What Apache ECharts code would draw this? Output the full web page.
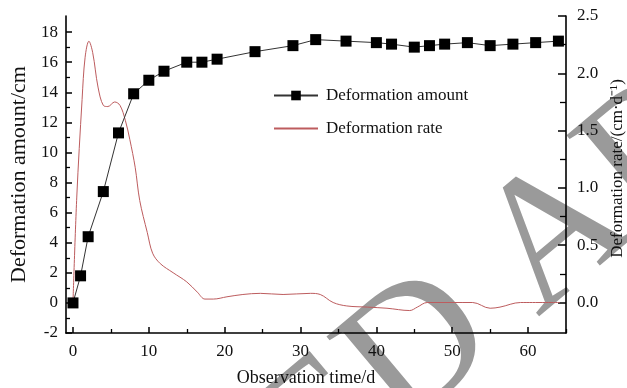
<!DOCTYPE html>
<html>
<head>
<meta charset="utf-8">
<script src="https://cdn.jsdelivr.net/npm/echarts@6/dist/echarts.min.js"></script>
<style>
  html, body { margin: 0; padding: 0; background: #fff; }
  #chart { width: 627px; height: 388px; }
</style>
</head>
<body>
<div id="chart"></div>
<script>
// Monitoring days and cumulative deformation (cm)
const days = [0, 1, 2, 4, 6, 8, 10, 12, 15, 17, 19, 24, 29, 32, 36, 40, 42, 45, 47, 49, 52, 55, 58, 61, 64];
const amount = [0, 1.8, 4.4, 7.4, 11.3, 13.9, 14.8, 15.4, 16.0, 16.0, 16.2, 16.7, 17.1, 17.5, 17.4, 17.3, 17.2, 17.0, 17.1, 17.2, 17.3, 17.1, 17.2, 17.3, 17.4];

// Deformation rate curve (cm/d)
const rateDays = [0, 0.5, 1.2, 1.6, 2.1, 2.6, 3.3, 4.0, 4.6, 5.5, 6.2, 6.9, 7.5, 8.2, 8.8, 9.8, 10.5, 11.5, 13.2, 15.0, 16.4, 17.4, 18.5, 20.3, 22.4, 24.7, 27.7, 31.3, 32.6, 34.3, 36.1, 38.8, 41.4, 44.4, 45.4, 46.7, 50.1, 52.7, 55.0, 56.3, 59.0, 64.2];
const rate = [0, 0.92, 1.77, 2.14, 2.28, 2.18, 1.88, 1.72, 1.71, 1.75, 1.72, 1.59, 1.42, 1.18, 0.89, 0.61, 0.43, 0.34, 0.26, 0.18, 0.09, 0.03, 0.03, 0.05, 0.07, 0.08, 0.07, 0.08, 0.07, 0.0, -0.03, -0.04, -0.05, -0.07, -0.04, 0.0, 0.0, 0.0, -0.05, -0.04, 0.0, 0.0];

// Axis ticks
const xMajor = [0, 10, 20, 30, 40, 50, 60];
const xMinor = [5, 15, 25, 35, 45, 55, 65];
const yLeftMajor = [-2, 0, 2, 4, 6, 8, 10, 12, 14, 16, 18];
const yLeftMinor = [-1, 1, 3, 5, 7, 9, 11, 13, 15, 17];
const yRightMajor = [0, 0.5, 1.0, 1.5, 2.0, 2.5];
const yRightMinor = [0.25, 0.75, 1.25, 1.75, 2.25];

const serif = '"Liberation Serif", "Times New Roman", serif';
const ink = '#111';
const rateColor = '#bd5c5e';

const chart = echarts.init(document.getElementById('chart'));

const labelStyle = { fontFamily: serif, fontSize: 17, color: ink };
const axisLine = { show: true, onZero: false, lineStyle: { color: '#000', width: 1.6 } };
const hiddenLine = { show: false, onZero: false };

chart.setOption({
  animation: false,
  backgroundColor: '#fff',
  grid: { left: 66, right: 61, top: 16, bottom: 55, containLabel: false, outerBoundsMode: 'none' },
  legend: {
    orient: 'vertical',
    left: 268,
    top: 82,
    itemWidth: 44,
    itemHeight: 12,
    itemGap: 16,
    textStyle: { fontFamily: serif, fontSize: 17, color: ink, padding: [0, 0, 0, 3] },
    data: [
      { name: 'Deformation amount' },
      { name: 'Deformation rate', itemStyle: { opacity: 0 } }
    ]
  },
  xAxis: [
    {
      type: 'value', min: -0.92, max: 65,
      axisLine: axisLine,
      axisTick: { show: true, inside: true, length: 6, customValues: xMajor, lineStyle: { color: '#000', width: 1.5 } },
      axisLabel: Object.assign({ customValues: xMajor, margin: 10 }, labelStyle),
      splitLine: { show: false },
      name: 'Observation time/d',
      nameLocation: 'middle',
      nameGap: 36,
      nameTextStyle: { fontFamily: serif, fontSize: 18, color: ink, padding: [0, 20, 0, 0] }
    },
    {
      type: 'value', min: -0.92, max: 65, position: 'bottom',
      axisLine: hiddenLine,
      axisTick: { show: true, inside: true, length: 4, customValues: xMinor, lineStyle: { color: '#000', width: 1.3 } },
      axisLabel: { show: false },
      splitLine: { show: false }
    }
  ],
  yAxis: [
    {
      type: 'value', position: 'left', min: -2, max: 19.07,
      axisLine: axisLine,
      axisTick: { show: true, inside: true, length: 6, customValues: yLeftMajor, lineStyle: { color: '#000', width: 1.5 } },
      axisLabel: Object.assign({ customValues: yLeftMajor, margin: 8 }, labelStyle),
      splitLine: { show: false },
      name: 'Deformation amount/cm',
      nameLocation: 'middle',
      nameRotate: 90,
      nameGap: 31,
      nameTextStyle: { fontFamily: serif, fontSize: 22, color: ink }
    },
    {
      type: 'value', position: 'left', min: -2, max: 19.07,
      axisLine: hiddenLine,
      axisTick: { show: true, inside: true, length: 4, customValues: yLeftMinor, lineStyle: { color: '#000', width: 1.3 } },
      axisLabel: { show: false },
      splitLine: { show: false }
    },
    {
      type: 'value', position: 'right', min: -0.266, max: 2.5,
      axisLine: axisLine,
      axisTick: { show: true, inside: true, length: 8, customValues: yRightMajor, lineStyle: { color: '#000', width: 1.5 } },
      axisLabel: Object.assign({ customValues: yRightMajor, margin: 11, formatter: v => v.toFixed(1) }, labelStyle),
      splitLine: { show: false },
      name: 'Deformation rate/(cm·d⁻¹)',
      nameLocation: 'middle',
      nameRotate: 90,
      nameGap: 37,
      nameTextStyle: { fontFamily: serif, fontSize: 17, color: ink, padding: [0, 0, 0, 12] }
    },
    {
      type: 'value', position: 'right', min: -0.266, max: 2.5,
      axisLine: hiddenLine,
      axisTick: { show: true, inside: true, length: 6, customValues: yRightMinor, lineStyle: { color: '#000', width: 1.3 } },
      axisLabel: { show: false },
      splitLine: { show: false }
    }
  ],
  series: [
    {
      name: 'Deformation rate',
      type: 'line',
      xAxisIndex: 0,
      yAxisIndex: 2,
      smooth: 0.35,
      symbol: 'none',
      lineStyle: { color: rateColor, width: 1 },
      itemStyle: { color: rateColor },
      data: rateDays.map((d, i) => [d, rate[i]]),
      z: 2
    },
    {
      name: 'Deformation amount',
      type: 'line',
      xAxisIndex: 0,
      yAxisIndex: 0,
      symbol: 'rect',
      symbolSize: 11,
      lineStyle: { color: '#333', width: 1 },
      itemStyle: { color: '#000' },
      data: days.map((d, i) => [d, amount[i]]),
      z: 3
    }
  ],
  // Diagonal grey "ACCEPTED ARTICLE" stamp laid over the figure
  graphic: [
    {
      type: 'group',
      x: 489, y: 295,
      rotation: 40 * Math.PI / 180,
      z: 100,
      silent: true,
      children: [
        {
          type: 'text', x: -23, y: 0,
          style: { text: 'ACCEPTED', fontFamily: serif, fontSize: 185, fill: '#9a9a9a', align: 'right', verticalAlign: 'middle' }
        },
        {
          type: 'text', x: 23, y: 0,
          style: { text: 'ARTICLE', fontFamily: serif, fontSize: 185, fill: '#9a9a9a', align: 'left', verticalAlign: 'middle' }
        }
      ]
    }
  ]
});
</script>
</body>
</html>
